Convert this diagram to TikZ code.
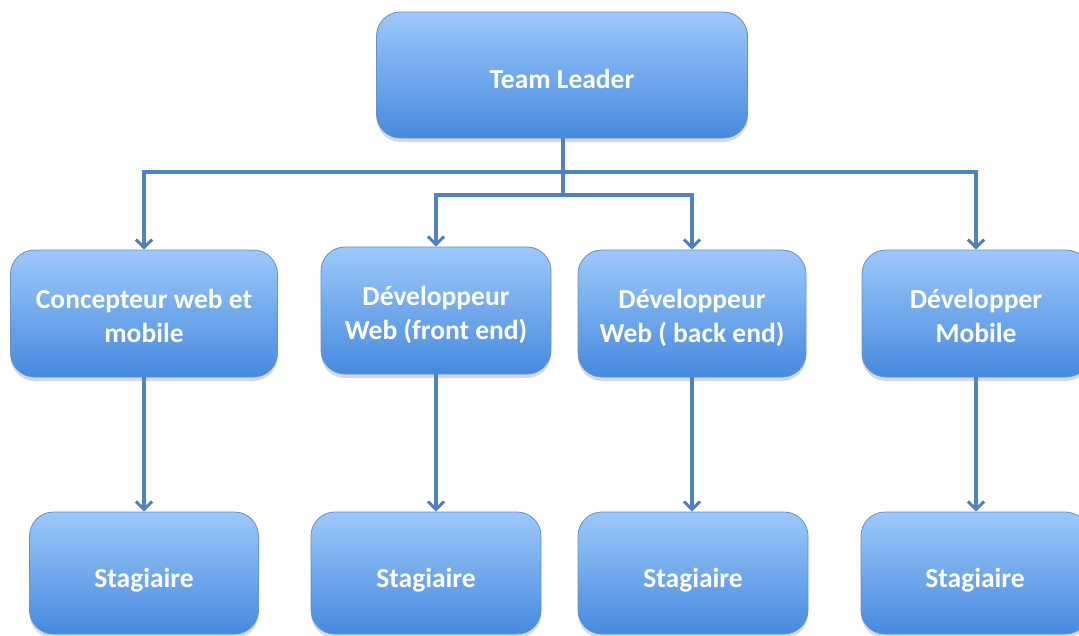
\documentclass[tikz,border=0pt]{standalone}
\usepackage{fontspec}
\setmainfont{Carlito}
\usetikzlibrary{arrows.meta,shadows}
\definecolor{boxtop}{RGB}{158,200,250}
\definecolor{boxbot}{RGB}{70,138,222}
\definecolor{boxedge}{RGB}{96,146,206}
\definecolor{linkcol}{RGB}{80,130,194}
% lower a label inside its box without changing the box's reported size
\newcommand\lowered[2]{\raisebox{-#1}[\height][\depth]{#2}}
\newcommand\twolines[3]{\lowered{#1}{\begin{tabular}{@{}c@{}}#2\\#3\end{tabular}}}
\tikzset{
  orgbox/.style={rounded corners=24pt, draw=boxedge, line width=0.8pt,
    top color=boxtop, bottom color=boxbot, middle color=boxtop!50!boxbot,
    text=white, align=center, inner sep=0pt,
    font=\bfseries\fontsize{27.5}{34}\selectfont,
    drop shadow={shadow xshift=0pt, shadow yshift=-4pt, opacity=0.25, fill=black!60}},
  link/.style={draw=linkcol, line width=3.4pt},
  linkarrow/.style={link, -{Straight Barb[length=8pt,width=16pt,line width=3pt]}}
}
\begin{document}
\begin{tikzpicture}[x=1pt,y=-1pt]
\useasboundingbox (0,0) rectangle (1079,635);
\clip (0,0) rectangle (1079,635);
\fill[white] (0,0) rectangle (1079,635);

% top level
\node[orgbox, minimum width=371pt, minimum height=126pt] (tl) at (562,75) {\lowered{4pt}{Team Leader}};

% middle level
\node[orgbox, minimum width=267pt, minimum height=127pt] (m1) at (144,313.5) {\twolines{5.5pt}{Concepteur web et}{mobile}};
\node[orgbox, minimum width=230pt, minimum height=127pt] (m2) at (436,310.5) {\twolines{5.5pt}{Développeur}{Web (front end)}};
\node[orgbox, minimum width=228pt, minimum height=127pt] (m3) at (692,313.5) {\twolines{5.5pt}{Développeur}{Web ( back end)}};
\node[orgbox, minimum width=228pt, minimum height=127pt] (m4) at (976,313.5) {\twolines{5.5pt}{Développer}{Mobile}};

% bottom level
\node[orgbox, minimum width=229pt, minimum height=122pt] (b1) at (144,573) {\lowered{7pt}{Stagiaire}};
\node[orgbox, minimum width=230pt, minimum height=122pt] (b2) at (426,573) {\lowered{7pt}{Stagiaire}};
\node[orgbox, minimum width=230pt, minimum height=122pt] (b3) at (693,573) {\lowered{7pt}{Stagiaire}};
\node[orgbox, minimum width=228pt, minimum height=122pt] (b4) at (975,573) {\lowered{7pt}{Stagiaire}};

% branch points under the team leader
\coordinate (j1) at (563,172);
\coordinate (j2) at (563,195);

\draw[link] (tl.south -| j1) -- (j2);
\draw[linkarrow] (j1) -| (m1.north);
\draw[linkarrow] (j1) -| (m4.north);
\draw[linkarrow] (j2) -| (m2.north);
\draw[linkarrow] (j2) -| (m3.north);

\draw[linkarrow] (m1.south) -- (m1.south |- b1.north);
\draw[linkarrow] (m2.south) -- (m2.south |- b2.north);
\draw[linkarrow] (m3.south) -- (m3.south |- b3.north);
\draw[linkarrow] (m4.south) -- (m4.south |- b4.north);
\end{tikzpicture}
\end{document}
